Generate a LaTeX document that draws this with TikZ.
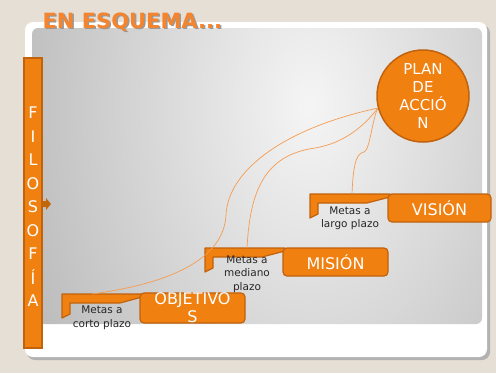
\documentclass[tikz,border=0pt]{standalone}
\usepackage{fontspec}
\setmainfont{DejaVu Sans}
\usepackage{tikz}
\usetikzlibrary{positioning,calc}
\definecolor{naranja}{HTML}{F08010}
\definecolor{borde}{HTML}{C0620E}
\definecolor{linea}{HTML}{F59C50}
\definecolor{beige}{HTML}{E5DFD5}
\definecolor{titulo}{HTML}{F5842E}

\begin{document}
\begin{tikzpicture}[x=1pt, y=-1pt, semithick]
\tikzstyle{caja}=[draw=borde, fill=naranja, line width=1.2pt, rounded corners=4pt, minimum width=105pt, minimum height=28pt, text=white, font=\fontsize{16}{18}\selectfont, align=center, inner sep=0pt]
\tikzstyle{gancho}=[draw=borde, fill=naranja, line width=1.2pt, line join=round]
\tikzstyle{meta}=[text=black!85, font=\fontsize{10.5}{13.5}\selectfont, align=center, inner sep=0pt]
\tikzstyle{curva}=[draw=linea, line width=0.7pt]
\tikzstyle{letra}=[text=white, font=\fontsize{16}{16}\selectfont, inner sep=0pt]

\useasboundingbox (0,0) rectangle (496,373);
\fill[beige] (0,0) rectangle (496,373);
\fill[black!30, rounded corners=8pt] (27,25) rectangle (490,360);
\fill[white, rounded corners=8pt] (25,22) rectangle (487,357);
\begin{scope}
\clip[rounded corners=6pt] (32,28) rectangle (482,324);
\shade[inner color=gray!8, outer color=gray!66] (310,105) ellipse (400 and 600);
\end{scope}

\node[text=black!40, font=\bfseries\fontsize{21}{21}\selectfont, anchor=west] (T2) at (40.5,23.5) {EN ESQUEMA...};
\node[text=titulo, font=\bfseries\fontsize{21}{21}\selectfont, anchor=west] (T) at (39,22) {EN ESQUEMA...};

\node[draw=borde, fill=naranja, line width=1.2pt, minimum width=18pt, minimum height=290pt, inner sep=0pt] (F) at (33,203) {};
\foreach \l [count=\i] in {F,I,L,O,S,O,F,Í,A}
  \node[letra] (F\i) at (33,89.5+23.5*\i) {\l};
\fill[naranja!80!black] (42,201) -- (46,201) -- (46,198) -- (51,204) -- (46,210) -- (46,207) -- (42,207) -- cycle;

\node[circle, draw=borde, fill=naranja, line width=1.5pt, minimum size=92pt, text=white, font=\fontsize{15}{18}\selectfont, align=center, inner sep=0pt] (P) at (423,96) {PLAN\\DE\\ACCIÓ\\N};

\draw[gancho] (62,294) -- (142,294) -- (142,297) -- (120,303) -- (70,303) -- (70,314) -- (62,318) -- cycle;
\node[caja] (O) at (192.5,308) {OBJETIVO\\S};
\node[meta] (mO) at (102,318) {Metas a\\corto plazo};
\coordinate (o) at (92,294);

\draw[gancho] (205,248) -- (285,248) -- (285,251) -- (262,257) -- (213,257) -- (213,268) -- (205,272) -- cycle;
\node[caja] (M) at (335.5,262) {MISIÓN};
\node[meta] (mM) at (247,274) {Metas a\\mediano\\plazo};
\coordinate (m) at (247,248);

\draw[gancho] (310,194) -- (390,194) -- (390,197) -- (367,203) -- (318,203) -- (318,214) -- (310,218) -- cycle;
\node[caja, minimum width=103pt] (V) at (439.5,208) {VISIÓN};
\node[meta] (mV) at (350,218.5) {Metas a\\largo plazo};
\coordinate (v) at (352,194);

\draw[curva] (o) .. controls (180,282) and (224,255) .. (226,215) .. controls (228,170) and (285,128) .. (P.195);
\draw[curva] (m) .. controls (250,190) and (265,155) .. (315,148) .. controls (345,143) and (365,125) .. (P.195);
\draw[curva] (v) .. controls (353,170) and (355,153) .. (364,152) .. controls (370,150) and (372,120) .. (P.195);
\end{tikzpicture}
\end{document}
